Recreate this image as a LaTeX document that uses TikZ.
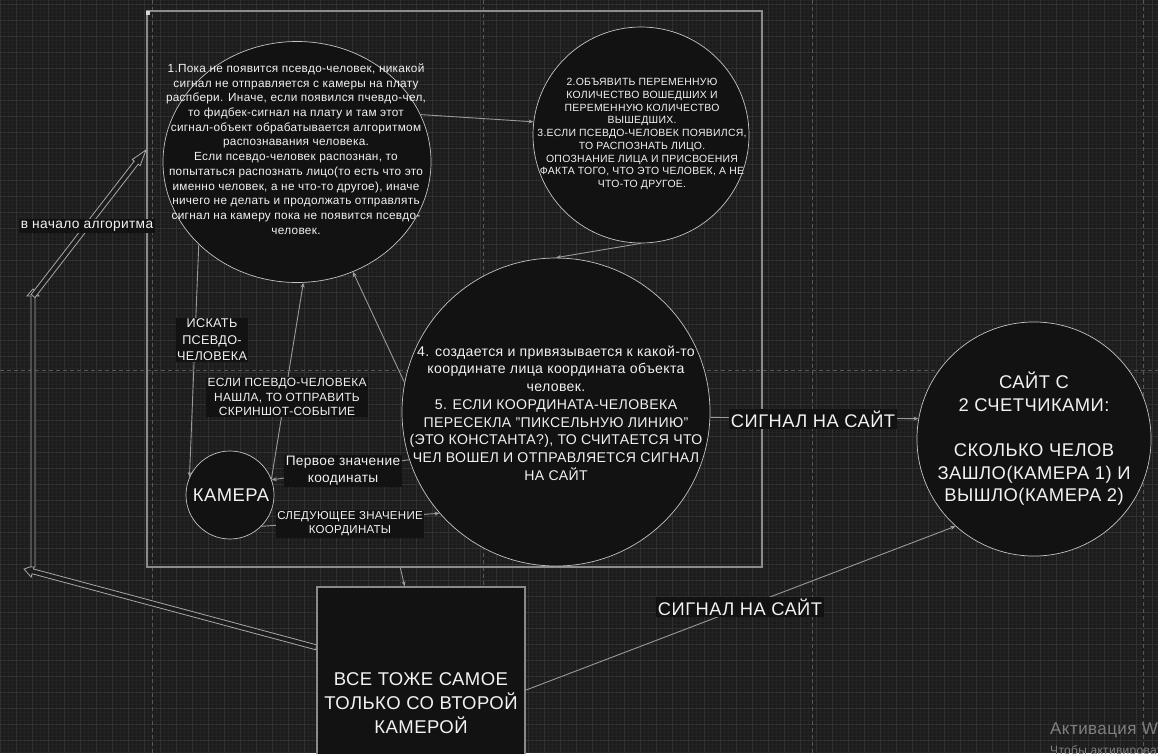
\documentclass[tikz,border=0pt]{standalone}
\usepackage{fontspec}
\setmainfont{Liberation Sans}[LetterSpace=2.5]
\usetikzlibrary{shapes.geometric,arrows.meta,calc}
\definecolor{bgc}{HTML}{1C1C1C}
\definecolor{minorc}{HTML}{232323}
\definecolor{majorc}{HTML}{313131}
\definecolor{pagec}{HTML}{575757}
\definecolor{shapefill}{HTML}{121212}
\definecolor{circline}{HTML}{C4C4C4}
\definecolor{connc}{HTML}{9A9A9A}
\definecolor{framec}{HTML}{8C8C8C}
\definecolor{boxc}{HTML}{8A8A8A}
\definecolor{flexc}{HTML}{A8A8A8}
\definecolor{txtc}{HTML}{F2F2F2}
\definecolor{wmc}{HTML}{808080}
\newcommand\myflexarrow[5]{%
  \coordinate (fh) at ($(#2)!#4pt!(#1)$);
  \draw[flexst] ($(#1)!#3pt!90:(#2)$) -- ($(fh)!#3pt!90:(#2)$) -- ($(fh)!#5pt!90:(#2)$) -- (#2) -- ($(fh)!#5pt!-90:(#2)$) -- ($(fh)!#3pt!-90:(#2)$) -- ($(#1)!#3pt!-90:(#2)$) -- cycle;}
\begin{document}
\begin{tikzpicture}[x=1pt,y=-1pt,
  circ/.style={circle, draw=circline, line width=0.7pt, fill=shapefill, inner sep=0pt, text=txtc, align=center},
  ell/.style={ellipse, draw=circline, line width=0.7pt, fill=shapefill, inner sep=0pt},
  boxst/.style={rectangle, draw=boxc, line width=1.4pt, fill=shapefill, inner sep=0pt, text=txtc, align=center},
  framest/.style={rectangle, draw=framec, line width=1.3pt, inner sep=0pt},
  txt/.style={text=txtc, align=center, inner sep=0pt},
  lbl/.style={fill=shapefill, text=txtc, align=center, inner sep=1.5pt},
  conn/.style={draw=connc, line width=0.9pt, -{Stealth[length=5pt,width=4pt]}},
  flexst/.style={draw=flexc, line width=0.8pt, fill=bgc, line join=miter},
  minorg/.style={draw=minorc, line width=0.5pt},
  majorg/.style={draw=majorc, line width=0.8pt},
  pagel/.style={draw=pagec, line width=0.8pt, dash pattern=on 4pt off 3pt},
]
\useasboundingbox (0,0) rectangle (1158,753);
\clip (0,0) rectangle (1158,753);
\fill[bgc] (0,0) rectangle (1158,753);
% grid
\foreach \x in {4,8,...,1156} \draw[minorg] (\x,0) -- (\x,753);
\foreach \y in {0,4,...,752} \draw[minorg] (0,\y) -- (1158,\y);
\foreach \x in {0,16,...,1152} \draw[majorg] (\x,0) -- (\x,753);
\foreach \y in {4,20,...,752} \draw[majorg] (0,\y) -- (1158,\y);
% page breaks
\foreach \x in {152,483,812,1143} \draw[pagel] (\x,0) -- (\x,753);
\draw[pagel] (0,370) -- (1158,370);

% frame
\node[framest, minimum width=615pt, minimum height=556pt] (frame) at (454.5,289) {};
\fill[circline!70] (146,11) rectangle (150,15);

% shapes
\node[ell, minimum width=268pt, minimum height=241pt] (c1) at (297,162) {};
\node[circ, minimum size=216pt] (c2) at (641,135) {};
\node[circ, minimum size=308pt] (c3) at (556,412) {};
\node[circ, minimum size=88pt, font=\fontsize{18.4}{20}\selectfont] (cam) at (230,495) {\hspace*{2pt}КАМЕРА};
\node[circ, minimum size=232pt, font=\fontsize{18.4}{22.6}\selectfont] (site) at (1034,439) {САЙТ С\\2 СЧЕТЧИКАМИ:\\[22.6pt]СКОЛЬКО ЧЕЛОВ\\ЗАШЛО(КАМЕРА 1) И\\ВЫШЛО(КАМЕРА 2)};
\node[boxst, minimum width=208pt, minimum height=232pt, font=\fontsize{18.5}{24}\selectfont] (box) at (421,703) {ВСЕ ТОЖЕ САМОЕ\\ТОЛЬКО СО ВТОРОЙ\\КАМЕРОЙ};

% texts in circles
\node[txt, font=\fontsize{11.8}{14.7}\selectfont] (t1) at (296,149) {1.Пока не появится псевдо-человек, никакой\\сигнал не отправляется с камеры на плату\\распбери. Иначе, если появился пчевдо-чел,\\то фидбек-сигнал на плату и там этот\\сигнал-объект обрабатывается алгоритмом\\распознавания человека.\\Если псевдо-человек распознан, то\\попытаться распознать лицо(то есть что это\\именно человек, а не что-то другое), иначе\\ничего не делать и продолжать отправлять\\сигнал на камеру пока не появится псевдо-\\человек.};
\node[txt, font=\fontsize{10.45}{12.75}\selectfont] (t2) at (642,134) {2.ОБЪЯВИТЬ ПЕРЕМЕННУЮ\\КОЛИЧЕСТВО ВОШЕДШИХ И\\ПЕРЕМЕННУЮ КОЛИЧЕСТВО\\ВЫШЕДШИХ.\\3.ЕСЛИ ПСЕВДО-ЧЕЛОВЕК ПОЯВИЛСЯ,\\ТО РАСПОЗНАТЬ ЛИЦО.\\ОПОЗНАНИЕ ЛИЦА И ПРИСВОЕНИЯ\\ФАКТА ТОГО, ЧТО ЭТО ЧЕЛОВЕК, А НЕ\\ЧТО-ТО ДРУГОЕ.};
\node[txt, font=\fontsize{14.1}{17.7}\selectfont] (t3) at (556,413) {4. создается и привязывается к какой-то\\координате лица координата объекта\\человек.\\5. ЕСЛИ КООРДИНАТА-ЧЕЛОВЕКА\\ПЕРЕСЕКЛА "ПИКСЕЛЬНУЮ ЛИНИЮ"\\(ЭТО КОНСТАНТА?), ТО СЧИТАЕТСЯ ЧТО\\ЧЕЛ ВОШЕЛ И ОТПРАВЛЯЕТСЯ СИГНАЛ\\НА САЙТ};

% connectors
\draw[conn] (c1.21.6) -- (c2.173.7);
\draw[conn] (c2.south) -- (c3.north);
\draw[conn] (c1.220.5) -- (cam.156);
\draw[conn] (cam.21.6) -- (c1.-87);
\draw[conn] (c3.169) -- (c1.-63);
\draw[conn] (c3.198.3) -- (cam.20);
\draw[conn] (cam.-45) -- (c3.221.6);
\draw[conn] (c3.-2.6) -- (site.170.2);
\draw[conn] (box.7.1) -- (site.228.8);
\draw[conn] (frame.259.3) -- (box.98.8);

% flex arrows back to start
\coordinate (fa) at (24,569);
\coordinate (fb) at (33,567);
\coordinate (fc) at (33,289);
\coordinate (fd) at (33,296);
\coordinate (fe) at (146,150);
\myflexarrow{box.152.6}{fa}{2.5}{9}{6}
\myflexarrow{fb}{fc}{2}{7}{6}
\myflexarrow{fd}{fe}{2.5}{16}{5}

% labels
\node[lbl, font=\fontsize{12.65}{16.5}\selectfont] (l1) at (212,340) {ИСКАТЬ\\ПСЕВДО-\\ЧЕЛОВЕКА};
\node[lbl, font=\fontsize{11.9}{14.5}\selectfont] (l2) at (287,397) {ЕСЛИ ПСЕВДО-ЧЕЛОВЕКА\\НАШЛА, ТО ОТПРАВИТЬ\\СКРИНШОТ-СОБЫТИЕ};
\node[lbl, font=\fontsize{13.7}{17}\selectfont] (l3) at (343,471) {Первое значение\\коодинаты};
\node[lbl, font=\fontsize{11.5}{14}\selectfont] (l4) at (350,524) {СЛЕДУЮЩЕЕ ЗНАЧЕНИЕ\\КООРДИНАТЫ};
\node[lbl, font=\fontsize{18.3}{20}\selectfont] (l5) at (813,419) {СИГНАЛ НА САЙТ};
\node[lbl, font=\fontsize{18.3}{20}\selectfont] (l6) at (740,607) {СИГНАЛ НА САЙТ};
\node[lbl, font=\fontsize{13.75}{16}\selectfont] (l7) at (87,226) {в начало алгоритма};

% watermark
\node[anchor=west, text=wmc, inner sep=0pt, font=\fontsize{17}{20}\selectfont] (wm1) at (1050,730) {Активация Windows};
\node[anchor=west, text=wmc, inner sep=0pt, font=\fontsize{12}{14}\selectfont] (wm2) at (1050,751) {Чтобы активировать Windows, перейдите в раздел "Параметры".};
\end{tikzpicture}
\end{document}
